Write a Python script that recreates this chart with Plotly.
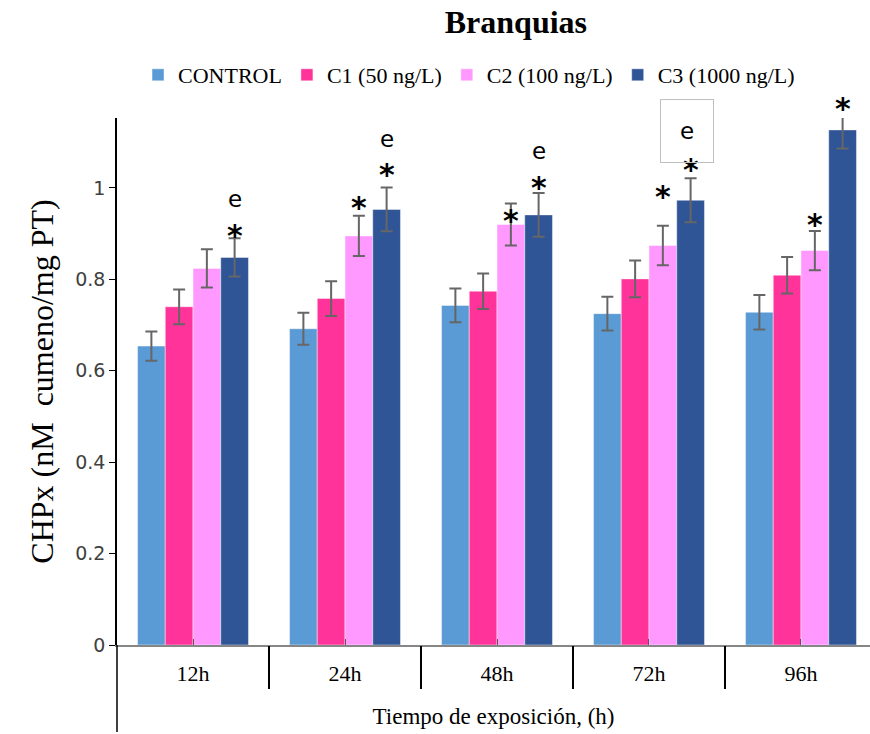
import plotly.graph_objects as go

# ---- data ----
categories = ["12h", "24h", "48h", "72h", "96h"]
series_names = ["CONTROL", "C1 (50 ng/L)", "C2 (100 ng/L)", "C3 (1000 ng/L)"]
control = [0.654, 0.692, 0.743, 0.725, 0.728]
c1 = [0.740, 0.758, 0.774, 0.801, 0.809]
c2 = [0.824, 0.895, 0.920, 0.874, 0.863]
c3 = [0.848, 0.953, 0.941, 0.973, 1.127]
control_err = [0.032, 0.035, 0.037, 0.037, 0.038]
c1_err = [0.038, 0.038, 0.039, 0.040, 0.040]
c2_err = [0.042, 0.044, 0.046, 0.043, 0.043]
c3_err = [0.042, 0.048, 0.048, 0.048, 0.041]
# significance marks: (category index, series index, text, y value of label)
marks = [
    (0, 3, "*", 0.910), (0, 3, "e", 0.975),
    (1, 2, "*", 0.970), (1, 3, "*", 1.043), (1, 3, "e", 1.108),
    (2, 2, "*", 0.941), (2, 3, "*", 1.014), (2, 3, "e", 1.080),
    (3, 2, "*", 0.994), (3, 3, "*", 1.054), (3, 3, "e", 1.124),
    (4, 2, "*", 0.934), (4, 3, "*", 1.188),
]
boxed_marks = [(3, 3, "e")]

values = [control, c1, c2, c3]
errors = [control_err, c1_err, c2_err, c3_err]
colors = ["#5B9BD5", "#FF3399", "#FF99FF", "#2F5597"]

SERIF = "Liberation Serif"
BARGAP = 0.27
YMAX = 1.153

fig = go.Figure()
for name, vals, errs, col in zip(series_names, values, errors, colors):
    fig.add_trace(go.Bar(
        x=categories, y=vals, name=name,
        marker=dict(color=col, line=dict(color="rgba(255,255,255,0.55)", width=0.8)),
        error_y=dict(type="data", array=errs, color="#666666", thickness=2, width=6),
    ))

# invisible helper trace for the boundary-tick axis
fig.add_trace(go.Scatter(x=[0], y=[0], xaxis="x2", mode="markers",
                         marker=dict(opacity=0), showlegend=False, hoverinfo="skip"))

nser = len(series_names)
bw = (1 - BARGAP) / nser
for ci, si, txt, yv in marks:
    xpos = ci - (1 - BARGAP) / 2 + bw * (si + 0.5)
    boxed = (ci, si, txt) in boxed_marks
    ypaper = yv / YMAX
    if txt == "*":
        fig.add_annotation(x=xpos, y=ypaper, xref="x", yref="paper", text="<b>*</b>",
                           showarrow=False,
                           font=dict(family="DejaVu Sans", size=30, color="black"),
                           yanchor="middle", yshift=-6)
    else:
        kw = {}
        if boxed:
            kw = dict(bordercolor="#BFBFBF", borderwidth=1, width=50, height=60, xshift=-4)
        fig.add_annotation(x=xpos, y=ypaper, xref="x", yref="paper", text="e",
                           showarrow=False,
                           font=dict(family="DejaVu Sans", size=23, color="black"),
                           yanchor="middle", **kw)

# y-axis line extension below the category axis
fig.add_shape(type="line", xref="paper", yref="paper", x0=0, x1=0, y0=0, y1=-0.165,
              line=dict(color="black", width=1.5))

xr = [-0.5, 4.454]
fig.update_layout(
    width=870, height=734,
    margin=dict(l=117, r=0, t=118, b=89),
    paper_bgcolor="white", plot_bgcolor="white",
    barmode="group", bargap=BARGAP, bargroupgap=0,
    title=dict(text="<b>Branquias</b>", x=0.593, xref="container", xanchor="center",
               y=1 - 22 / 734, yref="container", yanchor="middle",
               font=dict(family=SERIF, size=32, color="black")),
    legend=dict(orientation="h", x=0.4675, xanchor="center", y=1.0816, yanchor="middle",
                font=dict(family=SERIF, size=22, color="black"), traceorder="normal",
                itemwidth=30),
    xaxis=dict(type="category", range=xr, showline=True, linecolor="#868686", linewidth=2,
               ticks="inside", ticklen=6, tickcolor="#595959", tickwidth=1,
               ticklabelstandoff=8,
               tickfont=dict(family=SERIF, size=22, color="black"),
               title=dict(text="Tiempo de exposición, (h)", standoff=22,
                          font=dict(family=SERIF, size=23, color="black")),
               showgrid=False, zeroline=False),
    xaxis2=dict(type="linear", range=xr, overlaying="x", anchor="y", side="bottom",
                tickmode="array", tickvals=[0.5, 1.5, 2.5, 3.5],
                ticks="outside", ticklen=43, tickcolor="black", tickwidth=1.5,
                showticklabels=False, showline=False, showgrid=False, zeroline=False),
    yaxis=dict(range=[0, YMAX], dtick=0.2, tick0=0, showline=True, linecolor="black",
               linewidth=1.5, ticks="outside", ticklen=6, tickcolor="black",
               tickfont=dict(family="DejaVu Sans", size=19, color="#404040"),
               title=dict(text="CHPx (nM  cumeno/mg PT)", standoff=12,
                          font=dict(family=SERIF, size=32, color="black")),
               showgrid=False, zeroline=False),
    showlegend=True,
)

fig.write_html("out.html")
